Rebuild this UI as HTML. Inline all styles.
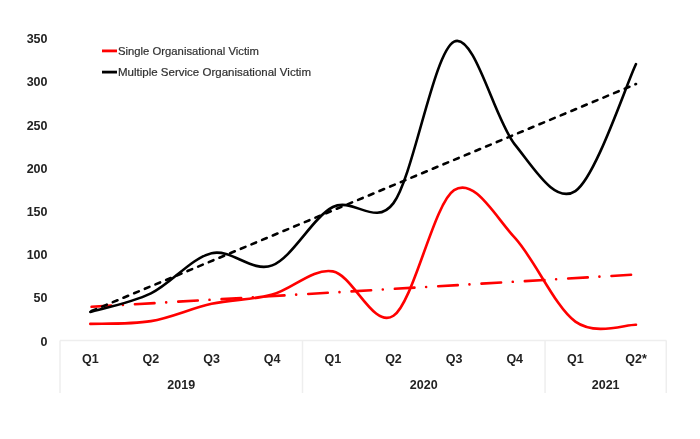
<!DOCTYPE html>
<html><head><meta charset="utf-8">
<style>
html,body{margin:0;padding:0;background:#fff;width:700px;height:439px;overflow:hidden}
svg{display:block;filter:blur(0.35px)}
.yl{font-family:"Liberation Sans",sans-serif;font-weight:bold;font-size:12.5px;fill:#222}
.lg{font-family:"Liberation Sans",sans-serif;font-size:11.3px;fill:#303030;stroke:#303030;stroke-width:0.2px}
</style></head><body>
<svg width="700" height="439" viewBox="0 0 700 439">
<g stroke="#eeeeee" stroke-width="1.5" fill="none">
<path d="M60.0,340.5 H666.30"/>
<path d="M60.0,340.5 V393 M302.52,340.5 V393 M545.04,340.5 V393 M666.30,340.5 V393"/>
</g>
<text x="47.5" y="345.50" text-anchor="end" class="yl">0</text>
<text x="47.5" y="302.31" text-anchor="end" class="yl">50</text>
<text x="47.5" y="259.11" text-anchor="end" class="yl">100</text>
<text x="47.5" y="215.91" text-anchor="end" class="yl">150</text>
<text x="47.5" y="172.72" text-anchor="end" class="yl">200</text>
<text x="47.5" y="129.53" text-anchor="end" class="yl">250</text>
<text x="47.5" y="86.33" text-anchor="end" class="yl">300</text>
<text x="47.5" y="43.13" text-anchor="end" class="yl">350</text>

<text x="90.31" y="362.8" text-anchor="middle" class="yl">Q1</text>
<text x="150.94" y="362.8" text-anchor="middle" class="yl">Q2</text>
<text x="211.58" y="362.8" text-anchor="middle" class="yl">Q3</text>
<text x="272.21" y="362.8" text-anchor="middle" class="yl">Q4</text>
<text x="332.84" y="362.8" text-anchor="middle" class="yl">Q1</text>
<text x="393.47" y="362.8" text-anchor="middle" class="yl">Q2</text>
<text x="454.10" y="362.8" text-anchor="middle" class="yl">Q3</text>
<text x="514.73" y="362.8" text-anchor="middle" class="yl">Q4</text>
<text x="575.36" y="362.8" text-anchor="middle" class="yl">Q1</text>
<text x="635.99" y="362.8" text-anchor="middle" class="yl">Q2*</text>
<text x="181.26" y="388.8" text-anchor="middle" class="yl">2019</text>
<text x="423.78" y="388.8" text-anchor="middle" class="yl">2020</text>
<text x="605.67" y="388.8" text-anchor="middle" class="yl">2021</text>

<path d="M90.31,306.89 L635.99,274.50" stroke="#ff0000" stroke-width="2.6" fill="none" stroke-dasharray="19.6 11.7 0.01 12.09" stroke-dashoffset="-1.3" stroke-linecap="round"/>
<path d="M90.31,311.56 L635.99,84.01" stroke="#000" stroke-width="2.6" fill="none" stroke-dasharray="5.0 6.555" stroke-dashoffset="-1.3" stroke-linecap="round"/>
<path d="M90.31,323.91 C100.42,323.45 130.73,324.50 150.94,321.15 C171.16,317.79 191.37,308.20 211.58,303.78 C231.79,299.36 252.00,300.03 272.21,294.63 C292.42,289.23 312.63,267.86 332.84,271.39 C353.05,274.92 373.26,329.33 393.47,315.79 C413.68,302.26 433.89,203.20 454.10,190.18 C474.31,177.17 494.52,215.78 514.73,237.70 C534.94,259.61 555.14,307.15 575.36,321.67 C595.57,336.18 625.88,324.26 635.99,324.78" stroke="#ff0000" stroke-width="2.6" fill="none" stroke-linejoin="round" stroke-linecap="round"/>
<path d="M90.31,311.99 C100.42,308.90 130.73,303.21 150.94,293.42 C171.16,283.63 191.37,257.93 211.58,253.25 C231.79,248.57 252.00,273.04 272.21,265.34 C292.42,257.64 312.63,217.39 332.84,207.03 C353.05,196.66 375.51,227.64 393.47,203.14 C413.68,175.57 433.89,51.38 454.10,41.59 C474.31,31.80 494.52,119.49 514.73,144.39 C534.94,169.30 555.14,204.44 575.36,191.05 C595.57,177.65 625.88,85.22 635.99,64.05" stroke="#000" stroke-width="2.6" fill="none" stroke-linejoin="round" stroke-linecap="round"/>
<line x1="102" y1="50.9" x2="117" y2="50.9" stroke="#ff0000" stroke-width="2.8"/>
<line x1="102" y1="72.1" x2="117" y2="72.1" stroke="#000" stroke-width="2.8"/>
<text x="118" y="54.7" class="lg" textLength="141" lengthAdjust="spacingAndGlyphs">Single Organisational Victim</text>
<text x="118" y="75.5" class="lg" textLength="193" lengthAdjust="spacingAndGlyphs">Multiple Service Organisational Victim</text>
</svg>
</body></html>
